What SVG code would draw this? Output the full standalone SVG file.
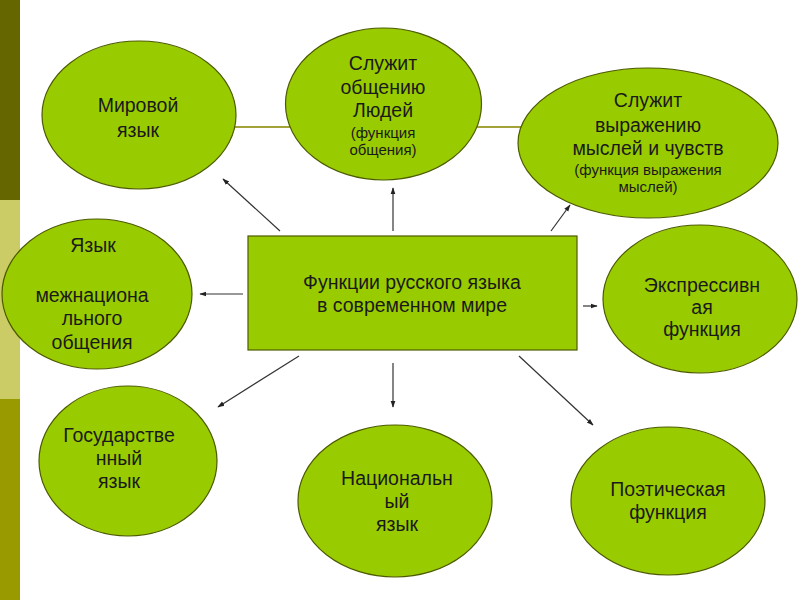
<svg xmlns="http://www.w3.org/2000/svg" width="800" height="600" viewBox="0 0 800 600">
<defs>
<style>
.n{fill:#99CC00;stroke:#4D5A00;stroke-width:1.2}
.t{font-family:"Liberation Sans",Arial,sans-serif;font-size:19.5px;fill:#1a1a1a;text-anchor:middle}
.s{font-size:15px}
.c line{stroke:#333333;stroke-width:1.2;marker-end:url(#ah)}
</style>
<marker id="ah" viewBox="0 0 10 10" refX="9" refY="5" markerWidth="7" markerHeight="7" markerUnits="userSpaceOnUse" orient="auto">
<path d="M0,1.5 L10,5 L0,8.5 Z" fill="#222"/>
</marker>
</defs>
<rect width="800" height="600" fill="#ffffff"/>
<rect x="0" y="0" width="20" height="200" fill="#666600"/>
<rect x="0" y="200" width="20" height="199" fill="#CCCC66"/>
<rect x="0" y="399" width="20" height="201" fill="#999900"/>
<line x1="200" y1="127" x2="560" y2="127" stroke="#A3A33A" stroke-width="2"/>
<g id="n-mirovoy"><ellipse class="n" cx="139" cy="115" rx="97" ry="74"/>
<text class="t" x="138" y="112">Мировой</text><text class="t" x="138" y="137">язык</text></g>
<g id="n-obshenie"><ellipse class="n" cx="383.5" cy="104" rx="98" ry="76"/>
<text class="t" x="383" y="70">Служит</text><text class="t" x="383" y="94">общению</text><text class="t" x="383" y="117">Людей</text>
<text class="t s" x="383" y="138">(функция</text><text class="t s" x="383" y="155">общения)</text></g>
<g id="n-vyrazhenie"><ellipse class="n" cx="648" cy="143" rx="130" ry="75"/>
<text class="t" x="648" y="107">Служит</text><text class="t" x="648" y="132">выражению</text><text class="t" x="648" y="155">мыслей и чувств</text>
<text class="t s" x="648" y="175">(функция выражения</text><text class="t s" x="648" y="192">мыслей)</text></g>
<g id="n-mezhnac"><ellipse class="n" cx="97" cy="294" rx="95" ry="75"/>
<text class="t" x="93" y="252">Язык</text><text class="t" x="92" y="302">межнациона</text><text class="t" x="92" y="325">льного</text><text class="t" x="92" y="349">общения</text></g>
<g id="n-center"><rect class="n" x="248" y="236" width="329" height="114"/>
<text class="t" x="412" y="289">Функции русского языка</text><text class="t" x="412" y="312">в современном мире</text></g>
<g id="n-ekspr"><ellipse class="n" cx="700" cy="299" rx="97" ry="74"/>
<text class="t" x="702" y="292">Экспрессивн</text><text class="t" x="702" y="314">ая</text><text class="t" x="702" y="336">функция</text></g>
<g id="n-gos"><ellipse class="n" cx="128" cy="461" rx="89" ry="75"/>
<text class="t" x="119" y="442">Государстве</text><text class="t" x="119" y="465">нный</text><text class="t" x="119" y="488">язык</text></g>
<g id="n-nac"><ellipse class="n" cx="395" cy="501" rx="97" ry="76"/>
<text class="t" x="397" y="485">Национальн</text><text class="t" x="397" y="508">ый</text><text class="t" x="397" y="531">язык</text></g>
<g id="n-poet"><ellipse class="n" cx="668" cy="501" rx="97" ry="74"/>
<text class="t" x="668" y="496">Поэтическая</text><text class="t" x="668" y="519">функция</text></g>
<g id="connectors" class="c">
<line x1="280" y1="231" x2="223" y2="179"/>
<line x1="393" y1="231" x2="393" y2="188"/>
<line x1="551" y1="231" x2="570" y2="205"/>
<line x1="243" y1="294" x2="200" y2="294"/>
<line x1="583" y1="306" x2="597" y2="306"/>
<line x1="299" y1="356" x2="218" y2="407"/>
<line x1="393" y1="363" x2="393" y2="407"/>
<line x1="519" y1="356" x2="593" y2="425"/>
</g>
</svg>
